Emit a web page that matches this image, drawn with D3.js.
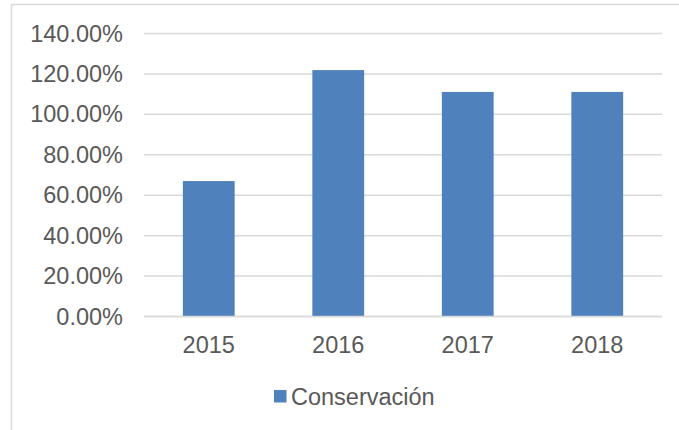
<!DOCTYPE html>
<html>
<head>
<meta charset="utf-8">
<script src="https://cdn.jsdelivr.net/npm/d3@7"></script>
<style>
  body { margin: 0; background: #fff; }
  text { font-family: "Liberation Sans", Arial, sans-serif; fill: #595959; }
</style>
</head>
<body>
<div id="chart"></div>
<script>
let years = ["2015", "2016", "2017", "2018"];
let conservacion = [0.67, 1.219, 1.111, 1.111];
let yTicks = [0, 0.2, 0.4, 0.6, 0.8, 1.0, 1.2, 1.4];
let seriesName = "Conservación";

let W = 679, H = 430;
let svg = d3.select("#chart").append("svg")
	.attr("width", W)
	.attr("height", H);

/* chart area border */
svg.append("rect")
	.attr("x", 11.5).attr("y", 4.5)
	.attr("width", 700).attr("height", 500)
	.attr("fill", "none")
	.attr("stroke", "#d9d9d9")
	.attr("stroke-width", 1.5);

let x = d3.scaleBand()
	.domain(years)
	.range([144, 662])
	.paddingInner(0.6)
	.paddingOuter(0.3);

let y = d3.scaleLinear()
	.domain([0, 1.4])
	.range([316.5, 33.5]);

/* gridlines */
svg.append("g")
	.selectAll("line")
	.data(yTicks)
	.join("line")
	.attr("x1", 144).attr("x2", 662)
	.attr("y1", (d) => y(d)).attr("y2", (d) => y(d))
	.attr("stroke", "#d9d9d9")
	.attr("stroke-width", 1.5);

/* y labels */
svg.append("g")
	.selectAll("text")
	.data(yTicks)
	.join("text")
	.attr("x", 123)
	.attr("y", (d) => y(d) + 8)
	.attr("text-anchor", "end")
	.style("font-size", "23.5px")
	.text((d) => d3.format(".2%")(d));

/* bars */
svg.append("g")
	.selectAll("rect")
	.data(conservacion)
	.join("rect")
	.attr("x", (d, i) => x(years[i]))
	.attr("width", x.bandwidth())
	.attr("y", (d) => y(d))
	.attr("height", (d) => y(0) - y(d))
	.attr("fill", "#4f81bd");

/* baseline over bars */
svg.append("line")
	.attr("x1", 144).attr("x2", 662)
	.attr("y1", y(0)).attr("y2", y(0))
	.attr("stroke", "#d9d9d9")
	.attr("stroke-width", 1.5);

/* x labels */
svg.append("g")
	.selectAll("text")
	.data(years)
	.join("text")
	.attr("x", (d) => x(d) + x.bandwidth() / 2)
	.attr("y", 353)
	.attr("text-anchor", "middle")
	.style("font-size", "23.5px")
	.text((d) => d);

/* legend */
let legend = svg.append("g");
legend.append("rect")
	.attr("x", 274).attr("y", 390)
	.attr("width", 12.5).attr("height", 12.5)
	.attr("fill", "#4f81bd");
legend.append("text")
	.attr("x", 291)
	.attr("y", 405)
	.style("font-size", "23.5px")
	.text(seriesName);
</script>
</body>
</html>
